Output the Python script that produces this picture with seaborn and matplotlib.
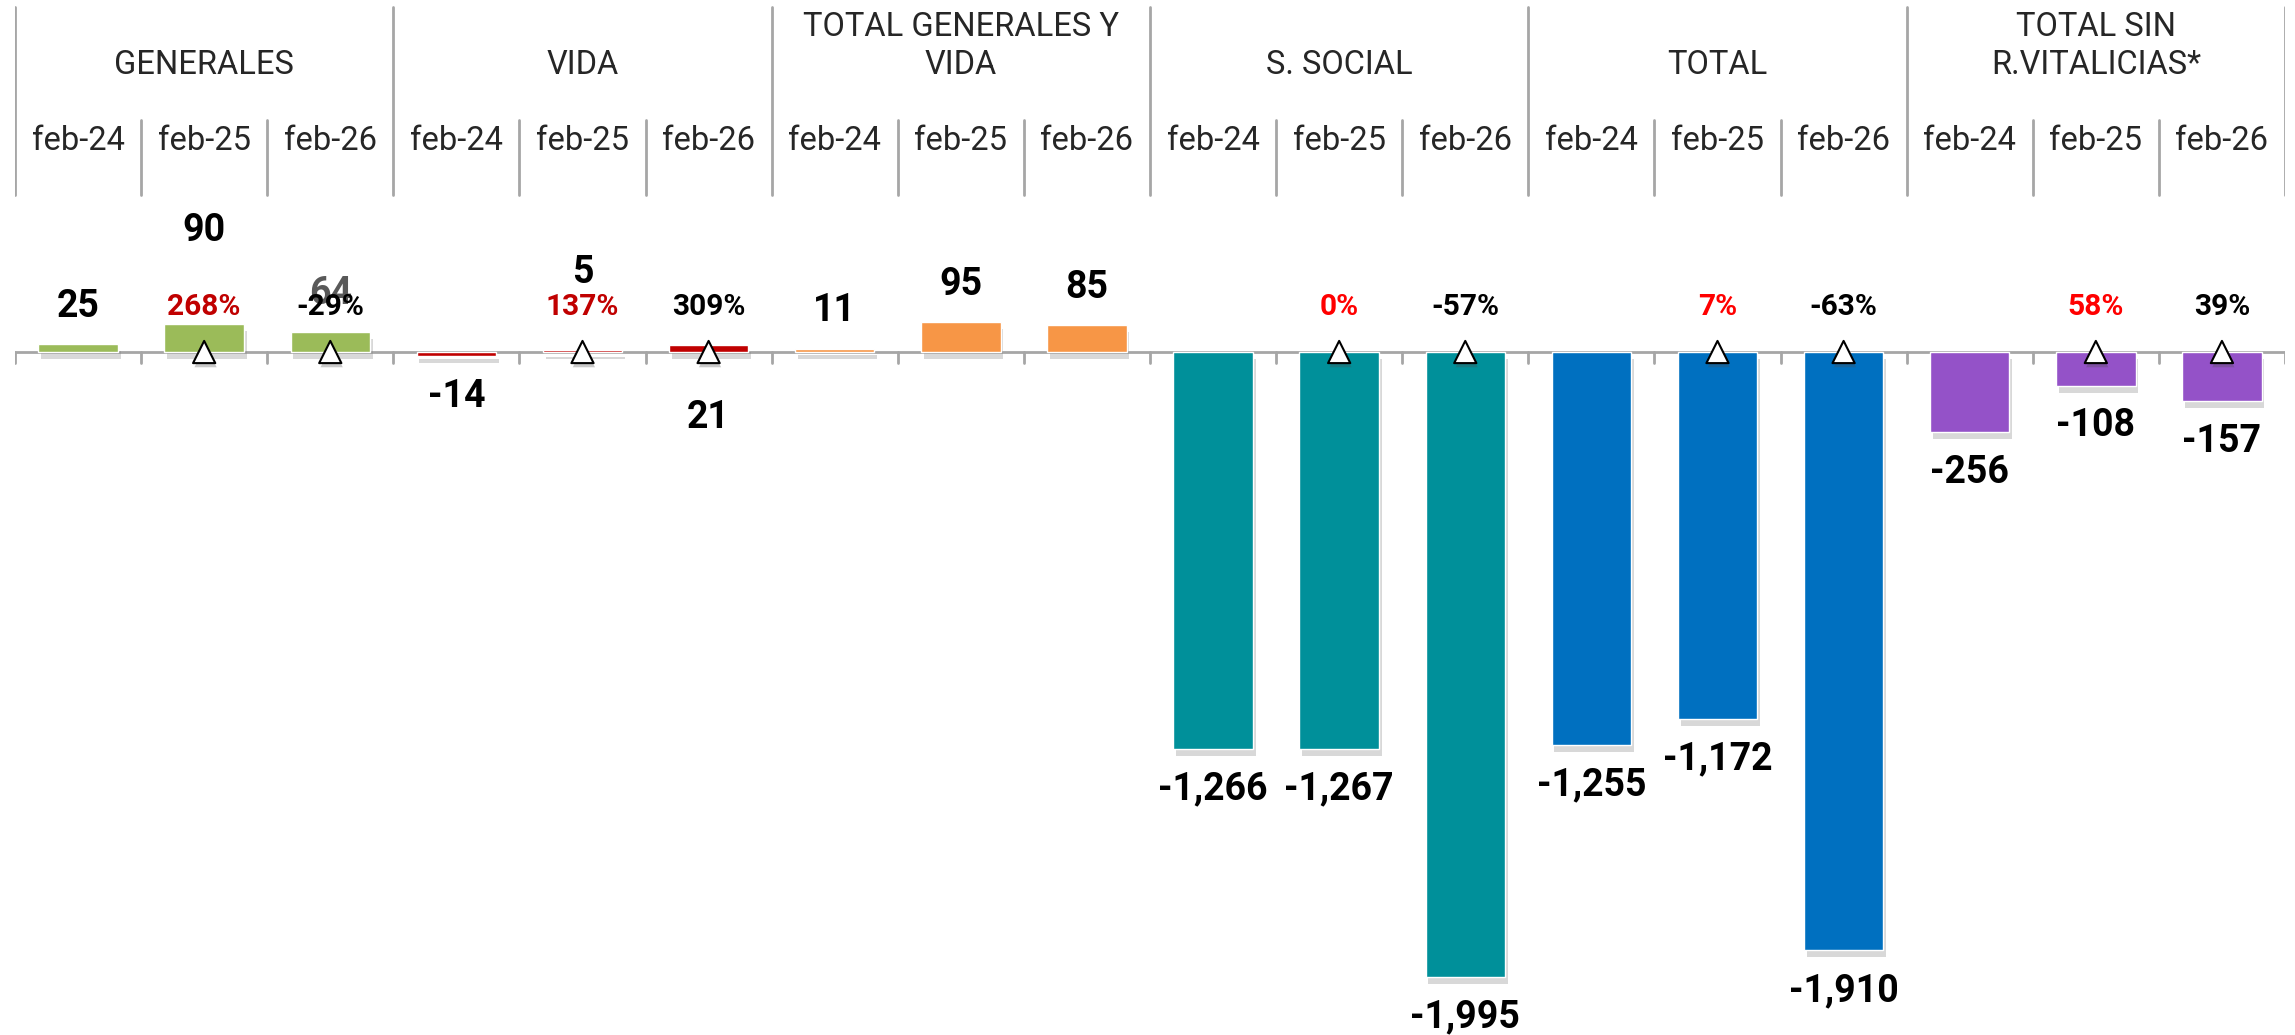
import matplotlib
matplotlib.use("Agg")
import matplotlib.pyplot as plt
import matplotlib.patheffects as pe
import seaborn as sns
import pandas as pd

# -----------------------------
# Data
# -----------------------------
groups = ["GENERALES", "VIDA", "TOTAL GENERALES Y\nVIDA", "S. SOCIAL", "TOTAL", "TOTAL SIN\nR.VITALICIAS*"]
periods = ["feb-24", "feb-25", "feb-26"]

generales = [25, 90, 64]
vida = [-14, 5, 21]
total_gen_vida = [11, 95, 85]
s_social = [-1266, -1267, -1995]
total = [-1255, -1172, -1910]
total_sin_rv = [-256, -108, -157]

# variation labels for feb-25 / feb-26 of each group (None = no label)
pct_feb25 = ["268%", "137%", None, "0%", "7%", "58%"]
pct_feb26 = ["-29%", "309%", None, "-57%", "-63%", "39%"]

group_colors = ["#9BBB59", "#C00000", "#F79646", "#00909A", "#0070C0", "#9452C8"]
pct25_colors = ["#C00000", "#C00000", "black", "#FF0000", "#FF0000", "#FF0000"]

values = [generales, vida, total_gen_vida, s_social, total, total_sin_rv]
rows = []
for g, vals in zip(groups, values):
    for p, v in zip(periods, vals):
        rows.append({"slot": g + "|" + p, "group": g, "period": p, "value": v})
df = pd.DataFrame(rows)

# -----------------------------
# Figure set-up (pixel based layout)
# -----------------------------
W, H = 2295, 1035
BASE = 352          # pixel row of the zero line
SCALE = 0.3133      # pixels per unit


def py(p):
    # pixel row -> data value
    return (BASE - p) / SCALE


sns.set_style("white")
plt.rcParams["font.family"] = ["Roboto", "DejaVu Sans"]

fig = plt.figure(figsize=(W / 100, H / 100), dpi=100)
ax = fig.add_axes([15 / W, 0, 2270 / W, 1])

sns.barplot(data=df, x="slot", y="value", hue="group", palette=group_colors,
            dodge=False, width=0.63, errorbar=None, saturation=1, legend=False, ax=ax, zorder=3)

for bar in ax.patches:
    bar.set_path_effects([pe.withSimplePatchShadow(offset=(2, -5), shadow_rgbFace="#808080", alpha=0.3)])

ax.set_xlim(-0.5, len(df) - 0.5)
ax.set_ylim(py(H), py(0))
ax.axis("off")

grey = "#A6A6A6"
# zero line and ticks
ax.axhline(0, color=grey, lw=2, zorder=2)
for b in range(len(df) + 1):
    x = b - 0.5
    ax.plot([x, x], [0, py(BASE + 11)], color=grey, lw=2, zorder=2)
    if b % 3 == 0:
        ax.plot([x, x], [py(7), py(195)], color=grey, lw=2)
    else:
        ax.plot([x, x], [py(120), py(195)], color=grey, lw=2)

# header labels
for gi, g in enumerate(groups):
    cx = gi * 3 + 1
    yc = 46 if "\n" in g else 65
    ax.text(cx, py(yc), g, ha="center", va="center", fontsize=23.5, linespacing=1.25)
    for pi, p in enumerate(periods):
        ax.text(gi * 3 + pi, py(141), p, ha="center", va="center", fontsize=23.5)

# value labels
nudge = {1: 55, 4: 40, 5: -110}  # pixel nudges for crowded labels
for i, v in enumerate(df["value"]):
    top = BASE - v * SCALE
    if v >= 0:
        yp = top - 38
    else:
        yp = top + 40
    yp -= nudge.get(i, 0)
    color = "#595959" if i == 2 else "black"
    ax.text(i, py(yp), f"{v:,}", ha="center", va="center", fontsize=27,
            fontweight="bold", color=color, zorder=4)

# variation labels + triangle markers
tri_x = []
for gi in range(len(groups)):
    for k, (lab, col) in enumerate([(pct_feb25[gi], pct25_colors[gi]), (pct_feb26[gi], "black")]):
        if lab is None:
            continue
        x = gi * 3 + 1 + k
        tri_x.append(x)
        ax.text(x, py(307), lab, ha="center", va="center", fontsize=21.5,
                fontweight="bold", color=col, zorder=5)

ax.scatter(tri_x, [0] * len(tri_x), marker="^", s=16 ** 2, facecolor="white",
           edgecolor="black", linewidth=1.5, zorder=6,
           path_effects=[pe.withSimplePatchShadow(offset=(1, -3), alpha=0.3)])

fig.savefig("out.png", dpi=100)
